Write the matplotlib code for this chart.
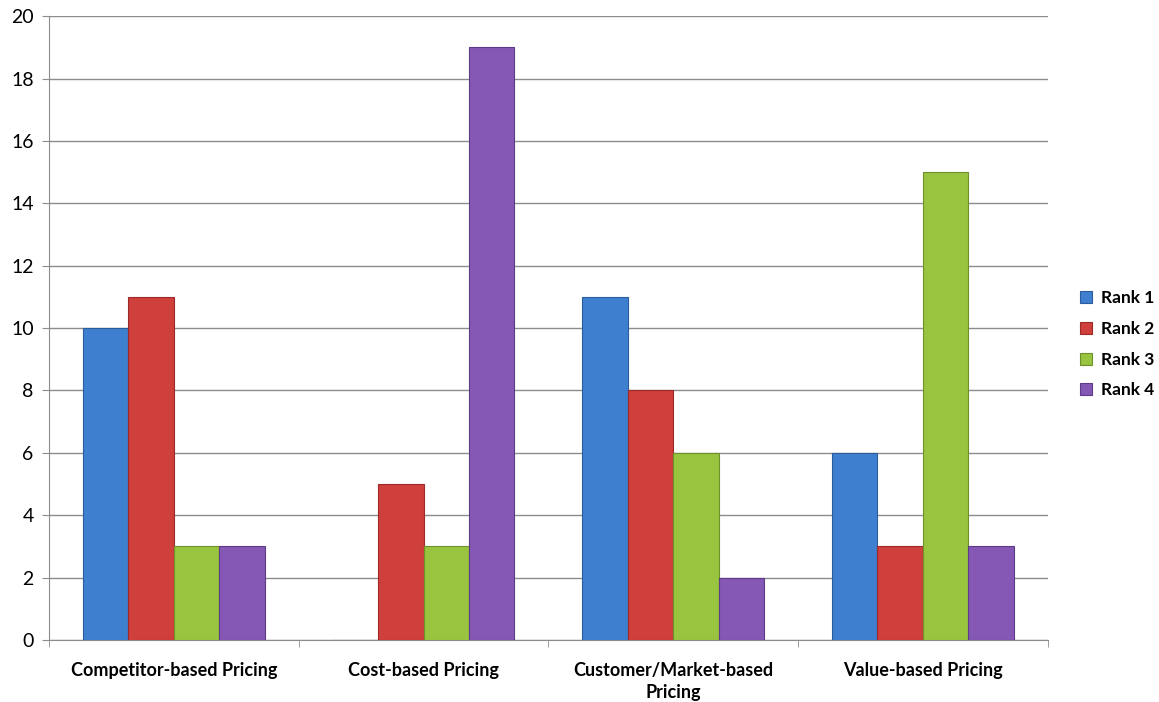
import matplotlib.pyplot as plt
import numpy as np

categories = ["Competitor-based Pricing", "Cost-based Pricing",
              "Customer/Market-based\nPricing", "Value-based Pricing"]
series = ["Rank 1", "Rank 2", "Rank 3", "Rank 4"]
rank1 = [10, 0, 11, 6]
rank2 = [11, 5, 8, 3]
rank3 = [3, 3, 6, 15]
rank4 = [3, 19, 2, 3]
values = [rank1, rank2, rank3, rank4]
colors = ["#3f7fcf", "#cf3f3c", "#98c440", "#8458b4"]
edges = ["#2b5c9c", "#9a2b29", "#6d9128", "#5e3b86"]

plt.rcParams['font.family'] = ['Lato', 'DejaVu Sans']

fig = plt.figure(figsize=(11.59, 7.02), dpi=100)
ax = fig.add_axes([0.0423, 0.0883, 0.8617, 0.8887])

x = np.arange(len(categories))
w = 0.182
for i, (name, vals) in enumerate(zip(series, values)):
    ax.bar(x + (i - 1.5) * w, vals, w, color=colors[i], edgecolor=edges[i],
           linewidth=0.8, label=name, zorder=3)

ax.set_xlim(-0.5, 3.5)
ax.set_ylim(0, 20)
ax.set_yticks(range(0, 21, 2))
ax.yaxis.grid(True, color="#8c8c8c", linewidth=1, zorder=0)
ax.set_xticks(x)
ax.set_xticklabels(categories, fontweight="bold", fontsize=13,
                   linespacing=1.35)
ax.set_xticks(np.arange(-0.5, 4, 1), minor=True)
ax.tick_params(axis="x", which="major", length=0, pad=16)
ax.tick_params(axis="x", which="minor", length=5, color="#8c8c8c")
ax.tick_params(axis="y", length=5, color="#8c8c8c", labelsize=14, pad=6)
for s in ["top", "right"]:
    ax.spines[s].set_visible(False)
for s in ["left", "bottom"]:
    ax.spines[s].set_color("#8c8c8c")

leg = ax.legend(loc="center left", bbox_to_anchor=(1.017, 0.474), frameon=False,
                handlelength=0.7, handleheight=0.7, labelspacing=0.85,
                handletextpad=0.5, prop={"weight": "bold", "size": 12.5})

fig.savefig("out.png", dpi=100)
